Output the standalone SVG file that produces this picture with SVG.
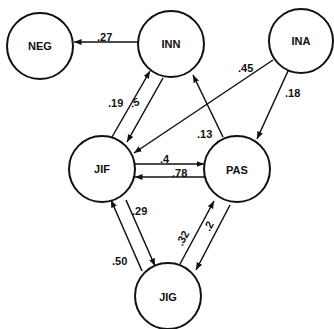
<svg xmlns="http://www.w3.org/2000/svg" width="334" height="329" viewBox="0 0 334 329">
<style>
.node circle{fill:#fff;stroke:#111;stroke-width:2}
.node text{font-family:"Liberation Sans",Arial,sans-serif;font-weight:bold;font-size:11px;fill:#111;text-anchor:middle;dominant-baseline:central}
.edge{stroke:#111;stroke-width:1.5;fill:none;marker-end:url(#ah)}
.lbl{font-family:"Liberation Sans",Arial,sans-serif;font-weight:bold;font-size:11px;fill:#111}
</style>
<defs>
<marker id="ah" markerUnits="userSpaceOnUse" markerWidth="8" markerHeight="8" viewBox="0 0 8 8" refX="7.5" refY="4" orient="auto">
<path d="M0,1 L7.5,4 L0,7 Z" fill="#111"/>
</marker>
</defs>
<rect width="334" height="329" fill="#fff"/>
<g id="connectors">
<line class="edge" x1="138" y1="42" x2="74" y2="42"/>
<line class="edge" x1="112" y1="137" x2="150" y2="71"/>
<line class="edge" x1="163" y1="78" x2="127" y2="142"/>
<line class="edge" x1="223" y1="137" x2="193" y2="75"/>
<line class="edge" x1="288" y1="71" x2="257" y2="139"/>
<line class="edge" x1="273" y1="60" x2="134" y2="153"/>
<line class="edge" x1="135" y1="164" x2="204" y2="164"/>
<line class="edge" x1="204" y1="177" x2="135" y2="177"/>
<line class="edge" x1="142" y1="271" x2="111" y2="200"/>
<line class="edge" x1="126" y1="200" x2="155" y2="266"/>
<line class="edge" x1="180" y1="264" x2="214" y2="201"/>
<line class="edge" x1="230" y1="205" x2="196" y2="270"/>
<text class="lbl" x="97" y="41">.27</text>
<text class="lbl" x="108" y="107">.19</text>
<text class="lbl" x="130" y="107" transform="rotate(-20 133 103)">.5</text>
<text class="lbl" x="197" y="138">.13</text>
<text class="lbl" x="238" y="72">.45</text>
<text class="lbl" x="285" y="97">.18</text>
<text class="lbl" x="160" y="163">.4</text>
<text class="lbl" x="172" y="177">.78</text>
<text class="lbl" x="132" y="215">.29</text>
<text class="lbl" x="112" y="265">.50</text>
<text class="lbl" x="186" y="240" transform="rotate(-62 186 240)" text-anchor="middle">.32</text>
<text class="lbl" x="212" y="228" transform="rotate(-62 212 228)" text-anchor="middle">.2</text>
</g>
<g id="NEG" class="node"><circle cx="40" cy="46" r="33"/><text x="40" y="46">NEG</text></g>
<g id="INN" class="node"><circle cx="171" cy="44" r="33"/><text x="171" y="44">INN</text></g>
<g id="INA" class="node"><circle cx="301" cy="41" r="32"/><text x="301" y="41">INA</text></g>
<g id="JIF" class="node"><circle cx="102" cy="169" r="33"/><text x="102" y="169">JIF</text></g>
<g id="PAS" class="node"><circle cx="237" cy="169" r="33"/><text x="237" y="170">PAS</text></g>
<g id="JIG" class="node"><circle cx="168" cy="296" r="33"/><text x="168" y="297">JIG</text></g>
</svg>
